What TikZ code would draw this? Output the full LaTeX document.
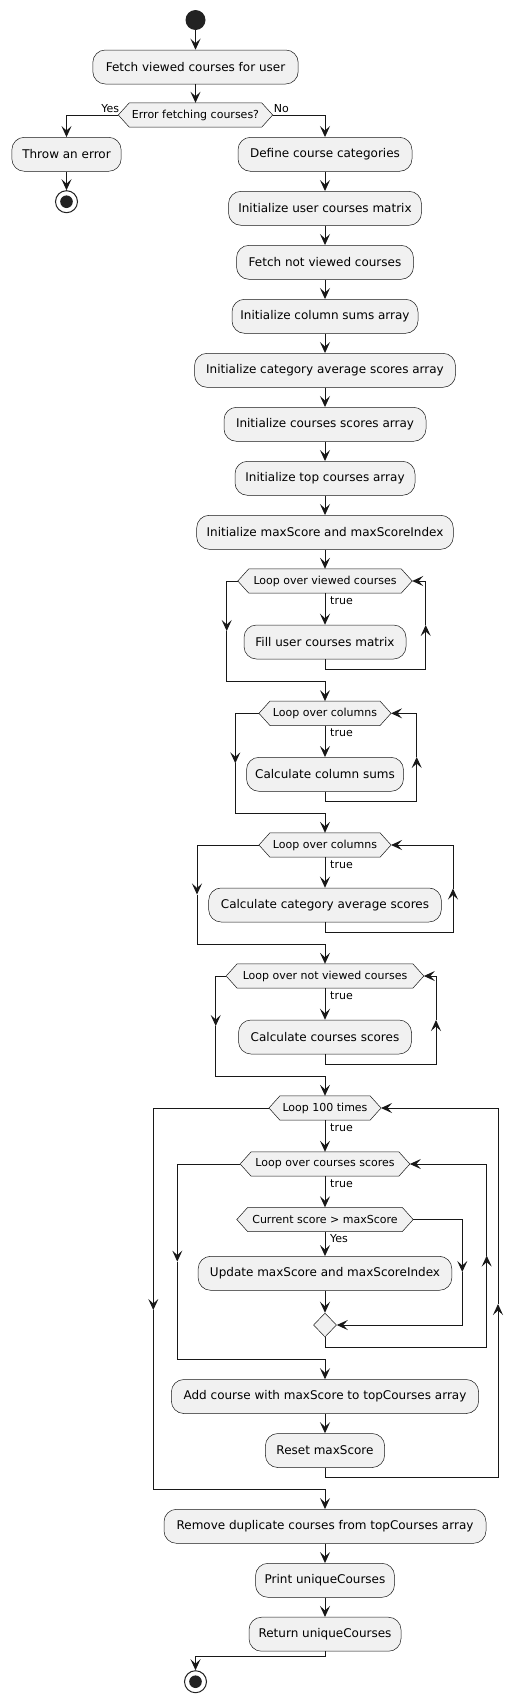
\documentclass[tikz,border=0pt]{standalone}
\usepackage{fontspec}
\setmainfont{DejaVu Sans}
\usetikzlibrary{arrows.meta,shapes.geometric,backgrounds}
\definecolor{boxfill}{HTML}{F1F1F1}
\definecolor{linec}{HTML}{181818}
\definecolor{dotc}{HTML}{222222}
\newcommand\hexpath[1]{\draw[hexshape] (#1.west) -- ([xshift=11pt]#1.north west) -- ([xshift=-11pt]#1.north east) -- (#1.east) -- ([xshift=-11pt]#1.south east) -- ([xshift=11pt]#1.south west) -- cycle;}
\begin{document}
\begin{tikzpicture}[x=1pt,y=-1pt,
  act/.style={rectangle, rounded corners=12.5pt, draw=linec, line width=0.5pt, fill=boxfill, minimum height=34pt, inner sep=0pt, text=black, font=\fontsize{12}{14}\selectfont},
  hexn/.style={rectangle, minimum height=24pt, inner sep=0pt, text=black, font=\fontsize{11}{13}\selectfont},
  hexshape/.style={draw=linec, line width=0.5pt, fill=boxfill},
  lbl/.style={font=\fontsize{11}{13}\selectfont, inner sep=0pt, text=black},
  conn/.style={draw=linec, line width=1pt},
  arr/.style={conn, -{Stealth[length=11pt,width=10pt,inset=4.5pt]}},
  startn/.style={circle, fill=dotc, minimum size=20pt, inner sep=0pt},
  stopn/.style={circle, draw=dotc, line width=1pt, fill=white, minimum size=22pt, inner sep=0pt},
  mergen/.style={diamond, draw=linec, line width=0.5pt, fill=boxfill, minimum width=23pt, minimum height=24pt, inner sep=0pt},
]
\useasboundingbox (0,0) rectangle (523,1703);

% ---- nodes
\node[startn] (start) at (195.5,20) {};
\node[act, minimum width=205.4pt] (fetch) at (195.5,67) {Fetch viewed courses for user};
\node[hexn, minimum width=154pt] (dec) at (195.5,115) {Error fetching courses?};
\node[act, minimum width=109.3pt] (throw) at (66.5,154.3) {Throw an error};
\node[stopn] (stop1) at (66.5,201.7) {};
\fill[dotc] (stop1.center) circle[radius=6.3pt];

\node[act, minimum width=174pt] (define) at (325,154.3) {Define course categories};
\node[act, minimum width=193pt] (initM) at (325,208.3) {Initialize user courses matrix};
\node[act, minimum width=177pt] (fetchNot) at (325,262.3) {Fetch not viewed courses};
\node[act, minimum width=186pt] (colArr) at (325,316.3) {Initialize column sums array};
\node[act, minimum width=261pt] (catArr) at (325,370.3) {Initialize category average scores array};
\node[act, minimum width=202pt] (scArr) at (325,424.3) {Initialize courses scores array};
\node[act, minimum width=180pt] (topArr) at (325,478.3) {Initialize top courses array};
\node[act, minimum width=256.6pt] (maxInit) at (325,532.3) {Initialize maxScore and maxScoreIndex};

\node[hexn, minimum width=174pt] (loopV) at (325,581) {Loop over viewed courses};
\node[act, minimum width=162pt] (fillM) at (325,642) {Fill user courses matrix};
\node[hexn, minimum width=131.7pt] (loopC1) at (325,713.3) {Loop over columns};
\node[act, minimum width=157pt] (colSums) at (325,774.3) {Calculate column sums};
\node[hexn, minimum width=131.7pt] (loopC2) at (325,845) {Loop over columns};
\node[act, minimum width=232.7pt] (catAvg) at (325,905) {Calculate category average scores};
\node[hexn, minimum width=197.3pt] (loopNV) at (325,976) {Loop over not viewed courses};
\node[act, minimum width=173pt] (cScores) at (325,1037) {Calculate courses scores};
\node[hexn, minimum width=111.7pt] (loop100) at (325,1108) {Loop 100 times};
\node[hexn, minimum width=169.3pt] (loopCS) at (325,1164) {Loop over courses scores};
\node[hexn, minimum width=176pt] (cur) at (325,1219.5) {Current score > maxScore};
\node[act, minimum width=253.7pt] (update) at (325,1273.3) {Update maxScore and maxScoreIndex};
\node[mergen] (merge) at (325,1325) {};
\node[act, minimum width=307.3pt] (add) at (325,1396.5) {Add course with maxScore to topCourses array};
\node[act, minimum width=119.3pt] (reset) at (325,1450.5) {Reset maxScore};
\node[act, minimum width=322pt] (remove) at (325,1526.3) {Remove duplicate courses from topCourses array};
\node[act, minimum width=139pt] (print) at (325,1580.3) {Print uniqueCourses};
\node[act, minimum width=152pt] (ret) at (325,1634.2) {Return uniqueCourses};
\node[stopn] (stop2) at (195.5,1681.7) {};
\fill[dotc] (stop2.center) circle[radius=6.3pt];

\begin{scope}[on background layer]
\foreach \n in {dec,loopV,loopC1,loopC2,loopNV,loop100,loopCS,cur} {\hexpath{\n}}
\end{scope}

% ---- labels
\node[lbl, anchor=base east] (lYes) at ([yshift=2.5pt,xshift=1pt]dec.west) {Yes};
\node[lbl, anchor=base west] (lNo) at ([yshift=2.5pt,xshift=1pt]dec.east) {No};
\foreach \n in {loopV,loopC1,loopC2,loopNV,loop100,loopCS} {
  \node[lbl, anchor=base west] (t\n) at ([xshift=5pt,yshift=-11pt]\n.south) {true};
}
\node[lbl, anchor=base west] (lYes2) at ([xshift=5pt,yshift=-10.7pt]cur.south) {Yes};

% ---- coordinates for loop wiring
\coordinate (vRb) at (425.7,669);   \coordinate (vRm) at (425.7,625);
\coordinate (vLm) at (226.7,631);   \coordinate (vLb) at (226.7,681);
\coordinate (c1Rb) at (416.7,801);  \coordinate (c1Rm) at (416.7,757);
\coordinate (c1Lm) at (235.3,763.3);\coordinate (c1Lb) at (235.3,813.3);
\coordinate (c2Rb) at (453,932);    \coordinate (c2Rm) at (453,888.5);
\coordinate (c2Lm) at (197,894.5);  \coordinate (c2Lb) at (197,944);
\coordinate (nvRb) at (436,1064);   \coordinate (nvRm) at (436,1020);
\coordinate (nvLm) at (215.7,1026); \coordinate (nvLb) at (215.7,1076);
\coordinate (hRb) at (498,1477);    \coordinate (hRm) at (498,1304);
\coordinate (hLm) at (153.3,1310);  \coordinate (hLb) at (153.3,1489.3);
\coordinate (csRb) at (486.7,1347.3); \coordinate (csRm) at (486.7,1255.6);
\coordinate (csLm) at (177.3,1261.6); \coordinate (csLb) at (177.3,1359.3);
\coordinate (curRm) at (462.3,1272);
\coordinate (retB) at (325,1656.3);

% ---- connectors
\draw[arr] (start) -- (fetch);
\draw[arr] (fetch) -- (dec);
\draw[arr] (dec.west) -| (throw.north);
\draw[arr] (dec.east) -| (define.north);
\draw[arr] (throw) -- (stop1);
\draw[arr] (define) -- (initM);
\draw[arr] (initM) -- (fetchNot);
\draw[arr] (fetchNot) -- (colArr);
\draw[arr] (colArr) -- (catArr);
\draw[arr] (catArr) -- (scArr);
\draw[arr] (scArr) -- (topArr);
\draw[arr] (topArr) -- (maxInit);
\draw[arr] (maxInit) -- (loopV);

% loop viewed
\draw[arr] (loopV) -- (fillM);
\draw[arr] (fillM.south) |- (vRb) -- (vRm);
\draw[arr] (vRm) |- (loopV.east);
\draw[arr] (loopV.west) -| (vLm);
\draw[arr] (vLm) -- (vLb) -| (loopC1.north);

% loop columns 1
\draw[arr] (loopC1) -- (colSums);
\draw[arr] (colSums.south) |- (c1Rb) -- (c1Rm);
\draw[arr] (c1Rm) |- (loopC1.east);
\draw[arr] (loopC1.west) -| (c1Lm);
\draw[arr] (c1Lm) -- (c1Lb) -| (loopC2.north);

% loop columns 2
\draw[arr] (loopC2) -- (catAvg);
\draw[arr] (catAvg.south) |- (c2Rb) -- (c2Rm);
\draw[arr] (c2Rm) |- (loopC2.east);
\draw[arr] (loopC2.west) -| (c2Lm);
\draw[arr] (c2Lm) -- (c2Lb) -| (loopNV.north);

% loop not viewed
\draw[arr] (loopNV) -- (cScores);
\draw[arr] (cScores.south) |- (nvRb) -- (nvRm);
\draw[arr] (nvRm) |- (loopNV.east);
\draw[arr] (loopNV.west) -| (nvLm);
\draw[arr] (nvLm) -- (nvLb) -| (loop100.north);

% loop 100
\draw[arr] (loop100) -- (loopCS);
\draw[arr] (loopCS) -- (cur);
\draw[arr] (cur) -- (update);
\draw[arr] (update) -- (merge);
\draw[arr] (cur.east) -| (curRm);
\draw[arr] (curRm) |- (merge.east);
\draw[arr] (merge.south) |- (csRb) -- (csRm);
\draw[arr] (csRm) |- (loopCS.east);
\draw[arr] (loopCS.west) -| (csLm);
\draw[arr] (csLm) -- (csLb) -| (add.north);
\draw[arr] (add) -- (reset);
\draw[arr] (reset.south) |- (hRb) -- (hRm);
\draw[arr] (hRm) |- (loop100.east);
\draw[arr] (loop100.west) -| (hLm);
\draw[arr] (hLm) -- (hLb) -| (remove.north);

\draw[arr] (remove) -- (print);
\draw[arr] (print) -- (ret);
\draw[arr] (ret.south) -- (retB) -| (stop2.north);
\end{tikzpicture}
\end{document}
